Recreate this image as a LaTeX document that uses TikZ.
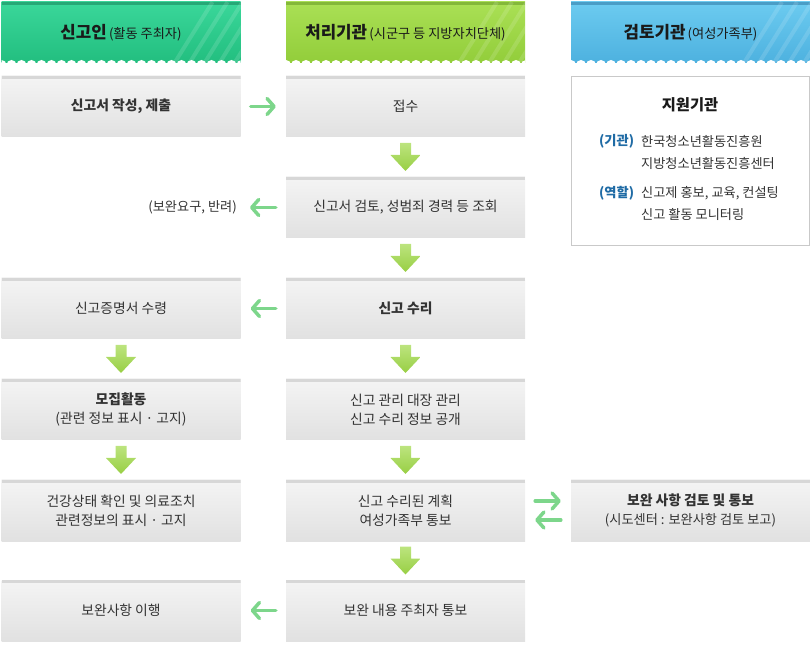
\documentclass[tikz,border=0pt]{standalone}
\usepackage{fontspec}
\setmainfont{Noto Sans CJK KR}
\usetikzlibrary{arrows.meta, calc, positioning}
\definecolor{textdark}{HTML}{333333}
\definecolor{textblack}{HTML}{1A1A1A}
\definecolor{labelblue}{HTML}{1F6BA5}
\definecolor{arrowgreen}{HTML}{7DD68B}
\definecolor{downtop}{HTML}{BCE47E}
\definecolor{downbot}{HTML}{98CF44}
\definecolor{boxstrip}{HTML}{D7D7D7}
\definecolor{boxtop}{HTML}{F4F4F4}
\definecolor{boxbot}{HTML}{E1E1E1}
\definecolor{infoline}{HTML}{C9C9C9}
\definecolor{greentop}{HTML}{3AD79A}
\definecolor{greenbot}{HTML}{22BE7F}
\definecolor{greenline}{HTML}{27A877}
\definecolor{limetop}{HTML}{AAE055}
\definecolor{limebot}{HTML}{92CD3A}
\definecolor{limeline}{HTML}{84B83A}
\definecolor{bluetop}{HTML}{6CCBF0}
\definecolor{bluebot}{HTML}{4DB1DF}
\definecolor{blueline}{HTML}{4A9DC6}
\tikzset{
  box/.style={minimum width=239pt, minimum height=61pt, inner sep=0pt,
              top color=boxtop, bottom color=boxbot, align=center,
              font=\fontsize{13.8}{19}\selectfont, text=textdark,
              path picture={\fill[boxstrip] (path picture bounding box.north west)
                rectangle ([yshift=-3pt]path picture bounding box.north east);}},
  hdr/.style n args={3}{minimum width=239pt, minimum height=61pt, inner sep=0pt,
              top color=#1, bottom color=#2, text=textblack,
              path picture={
                \fill[#3] (path picture bounding box.north west)
                  rectangle ([yshift=-3pt]path picture bounding box.north east);
                \foreach \s in {0,...,4}
                  \draw[white, opacity=.13, line width=4pt]
                    ($(path picture bounding box.south east)+(-66+\s*15,0)$) -- +(38,61);
                \foreach \i in {0,...,24}
                  \fill[white] ($(path picture bounding box.south west)+(\i*10,-2)$) circle (5pt);}},
  harr/.style={draw=arrowgreen, line width=3.5pt, line cap=round, line join=round,
               -{Straight Barb[length=7pt, width=16pt, round]}},
  downarr/.pic={\shade[top color=downtop, bottom color=downbot]
                  (-5.5,14) -- (-5.5,2) -- (-15,2) -- (0,-14) -- (15,2) -- (5.5,2) -- (5.5,14) -- cycle;},
}
\begin{document}
\begin{tikzpicture}[x=1pt, y=1pt,
  infobox/.style={draw=infoline, fill=white, line width=0.8pt, minimum width=238pt, minimum height=169pt},
  info/.style={font=\fontsize{13.2}{16}\selectfont, text=textdark, anchor=west, inner sep=0pt},
  infolbl/.style={font=\fontsize{13.2}{16}\selectfont\bfseries, text=labelblue, anchor=west, inner sep=0pt}]
  \useasboundingbox (0,0) rectangle (810,645);
  % column headers
  \node[hdr={greentop}{greenbot}{greenline}] (hreport) at (121,612.5)
    {{\fontsize{16.8}{19}\selectfont\bfseries 신고인} {\fontsize{13.2}{15}\selectfont (활동 주최자)}};
  \node[hdr={limetop}{limebot}{limeline}] (hprocess) at (405.5,612.5)
    {{\fontsize{16.8}{19}\selectfont\bfseries 처리기관} {\fontsize{13.2}{15}\selectfont (시군구 등 지방자치단체)}};
  \node[hdr={bluetop}{bluebot}{blueline}] (hreview) at (690.5,612.5)
    {{\fontsize{16.8}{19}\selectfont\bfseries 검토기관} {\fontsize{13.2}{15}\selectfont (여성가족부)}};
  % reporter column
  \node[box] (submit) at (121,538.5) {\textbf{신고서 작성, 제출}};
  \node[box] (certif) at (121,336.5) {신고증명서 수령};
  \node[box] (recruit) at (121,235.5) {\textbf{모집활동}\\(관련 정보 표시 · 고지)};
  \node[box] (health) at (121,134.5) {건강상태 확인 및 의료조치\\관련정보의 표시 · 고지};
  \node[box] (comply) at (121,34.5) {보완사항 이행};
  \node[font=\fontsize{13.2}{15}\selectfont, text=textdark, anchor=east, inner sep=0pt] (reject) at (237,437.5) {(보완요구, 반려)};
  % processing column
  \node[box] (receipt) at (405.5,538.5) {접수};
  \node[box] (review) at (405.5,437.5) {신고서 검토, 성범죄 경력 등 조회};
  \node[box] (accept) at (405.5,336.5) {\textbf{신고 수리}};
  \node[box] (register) at (405.5,235.5) {신고 관리 대장 관리\\신고 수리 정보 공개};
  \node[box] (notify) at (405.5,134.5) {신고 수리된 계획\\여성가족부 통보};
  \node[box] (inform) at (405.5,34.5) {보완 내용 주최자 통보};
  % review column
  \node[infobox] (support) at (690,484.5) {};
  \node[font=\fontsize{15.3}{17}\selectfont\bfseries, text=textblack] (suptitle) at (690,540) {지원기관};
  \node[infolbl] (orglbl) at (599,504) {(기관)};
  \node[info] (org1) at (641,504) {한국청소년활동진흥원};
  \node[info] (org2) at (641,482) {지방청소년활동진흥센터};
  \node[infolbl] (rolelbl) at (599,452) {(역할)};
  \node[info] (role1) at (641,452) {신고제 홍보, 교육, 컨설팅};
  \node[info] (role2) at (641,430) {신고 활동 모니터링};
  \node[box] (check) at (690.5,134.5) {\textbf{보완 사항 검토 및 통보}\\{\fontsize{13.2}{19}\selectfont (시도센터 : 보완사항 검토 보고)}};
  % flow arrows
  \pic at ($(receipt.south)!.5!(review.north)$) {downarr};
  \pic at ($(review.south)!.5!(accept.north)$) {downarr};
  \pic at ($(accept.south)!.5!(register.north)$) {downarr};
  \pic at ($(register.south)!.5!(notify.north)$) {downarr};
  \pic at ($(notify.south)!.5!(inform.north)$) {downarr};
  \pic at ($(certif.south)!.5!(recruit.north)$) {downarr};
  \pic at ($(recruit.south)!.5!(health.north)$) {downarr};
  \draw[harr] ([xshift=10pt]submit.east) -- ([xshift=-10pt]receipt.west);
  \draw[harr] ([xshift=-10pt]review.west) -- ([xshift=13pt]reject.east);
  \draw[harr] ([xshift=-10pt]accept.west) -- ([xshift=10pt]certif.east);
  \draw[harr] ([xshift=-10pt]inform.west) -- ([xshift=10pt]comply.east);
  \draw[harr] ([xshift=10pt, yshift=9.5pt]notify.east) -- ([xshift=-10pt, yshift=9.5pt]check.west);
  \draw[harr] ([xshift=-10pt, yshift=-9.5pt]check.west) -- ([xshift=10pt, yshift=-9.5pt]notify.east);
\end{tikzpicture}
\end{document}
